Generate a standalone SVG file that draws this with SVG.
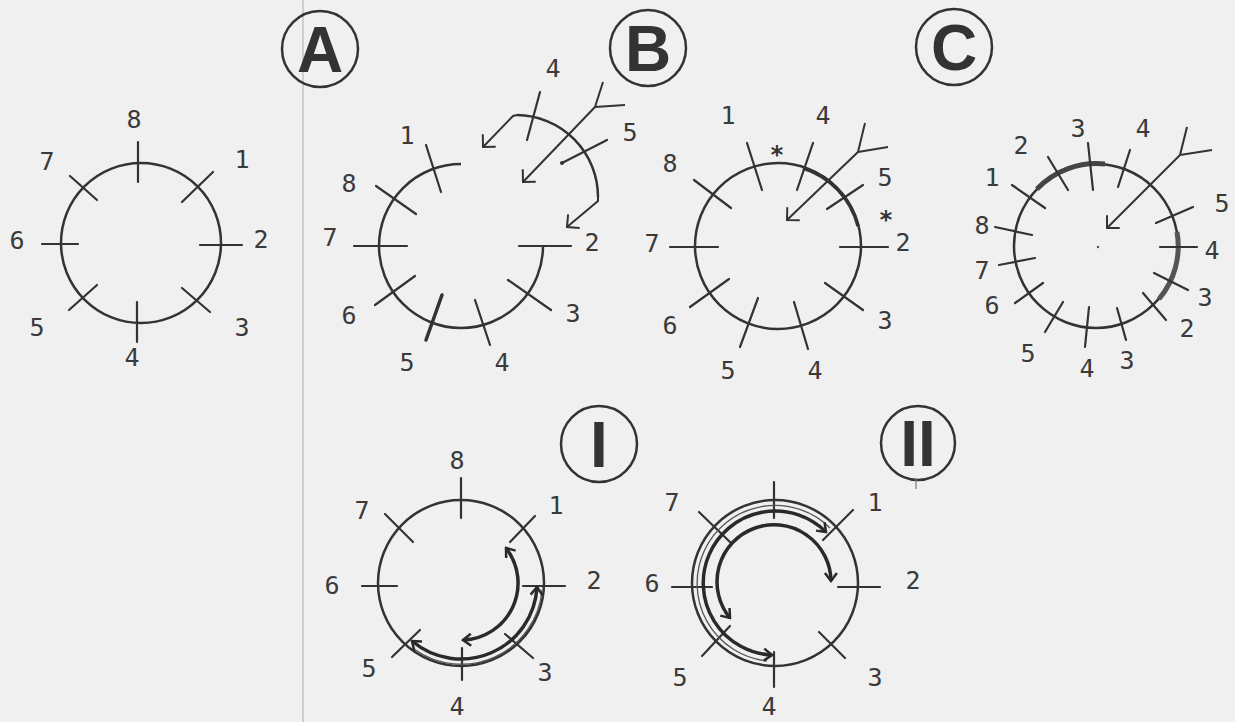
<svg xmlns="http://www.w3.org/2000/svg" width="1235" height="722" viewBox="0 0 1235 722">
<defs>
<style>
.ring{fill:none;stroke:#333;stroke-width:2.5}
.tk{stroke:#333;stroke-width:2.2;stroke-linecap:round}
.ar{fill:none;stroke:#333;stroke-width:2}
.cur{fill:none;stroke:#2a2a2a;stroke-width:3.5}
.thin{fill:none;stroke:#555;stroke-width:1.3}
.thick{fill:none;stroke:#444;stroke-width:5}
.n{font-family:"DejaVu Sans Mono","Liberation Mono",monospace;font-size:25px;fill:#3a3a3a;text-anchor:middle}
.st{font-family:"DejaVu Sans Mono","Liberation Mono",monospace;font-size:24px;font-weight:bold;fill:#333;text-anchor:middle}
.bc{fill:none;stroke:#333;stroke-width:2.5}
.bl{font-family:"Liberation Sans",Arial,sans-serif;font-size:64px;font-weight:bold;fill:#333;text-anchor:middle}
</style>
<marker id="ah" viewBox="-12 -10 14 20" refX="0" refY="0" markerWidth="14" markerHeight="20" orient="auto-start-reverse" markerUnits="userSpaceOnUse">
<path d="M -9 -9 L 0 0 L -9 9" fill="none" stroke="#333" stroke-width="2"/>
</marker>
<marker id="ch" viewBox="-12 -10 14 20" refX="0" refY="0" markerWidth="14" markerHeight="20" orient="auto-start-reverse" markerUnits="userSpaceOnUse">
<path d="M -8 -6 L 0 0 L -8 6" fill="none" stroke="#2a2a2a" stroke-width="2.5"/>
</marker>
</defs>
<rect x="0" y="0" width="1235" height="722" fill="#f0f0f0"/>
<line x1="303" y1="0" x2="303" y2="722" stroke="#c4c4c4" stroke-width="1.5"/>

<g id="label-A"><circle class="bc" cx="320" cy="49" r="38"/><text class="bl" x="320" y="72">A</text></g>
<g id="label-B"><circle class="bc" cx="648" cy="48" r="38"/><text class="bl" x="648" y="71">B</text></g>
<g id="label-C"><circle class="bc" cx="954" cy="47" r="38"/><text class="bl" x="954" y="70">C</text></g>
<g id="label-I"><circle class="bc" cx="599" cy="444" r="38"/><text class="bl" x="599" y="467">I</text></g>
<g id="label-II"><circle class="bc" cx="918" cy="443" r="37"/><text class="bl" x="918" y="466">II</text><line x1="916" y1="479" x2="916" y2="489" stroke="#777" stroke-width="1.2"/></g>

<g id="diagram-A">
<circle class="ring" cx="141" cy="243" r="80"/>
<line class="tk" x1="138" y1="142" x2="138" y2="182"/>
<line class="tk" x1="182" y1="202" x2="213" y2="172"/>
<line class="tk" x1="200" y1="245" x2="242" y2="245"/>
<line class="tk" x1="182" y1="288" x2="210" y2="312"/>
<line class="tk" x1="137" y1="302" x2="137" y2="342"/>
<line class="tk" x1="97" y1="285" x2="69" y2="310"/>
<line class="tk" x1="42" y1="244" x2="78" y2="244"/>
<line class="tk" x1="70" y1="176" x2="97" y2="200"/>
<text class="n" x="134" y="128">8</text>
<text class="n" x="242" y="168">1</text>
<text class="n" x="261" y="248">2</text>
<text class="n" x="242" y="336">3</text>
<text class="n" x="132" y="366">4</text>
<text class="n" x="37" y="336">5</text>
<text class="n" x="17" y="249">6</text>
<text class="n" x="47" y="170">7</text>
</g>

<g id="diagram-B">
<path class="ring" d="M 461 164 A 82 82 0 1 0 543 246"/>
<path class="ring" d="M 517 115 A 82 82 0 0 1 598 197"/>
<line class="tk" x1="426" y1="145" x2="441" y2="192"/>
<line class="tk" x1="376" y1="186" x2="416" y2="214"/>
<line class="tk" x1="354" y1="246" x2="407" y2="246"/>
<line class="tk" x1="375" y1="305" x2="415" y2="276"/>
<line class="tk" x1="426" y1="340" x2="442" y2="295" style="stroke-width:3.5"/>
<line class="tk" x1="475" y1="300" x2="490" y2="345"/>
<line class="tk" x1="508" y1="280" x2="551" y2="310"/>
<line class="tk" x1="519" y1="246" x2="571" y2="246"/>
<line class="tk" x1="540" y1="92" x2="527" y2="140"/>
<line class="tk" x1="562" y1="163" x2="607" y2="140"/>
<circle cx="562" cy="163" r="2" fill="#333"/>
<text class="n" x="407" y="144">1</text>
<text class="n" x="349" y="192">8</text>
<text class="n" x="330" y="246">7</text>
<text class="n" x="349" y="324">6</text>
<text class="n" x="407" y="371">5</text>
<text class="n" x="502" y="371">4</text>
<text class="n" x="573" y="322">3</text>
<text class="n" x="592" y="251">2</text>
<text class="n" x="553" y="77">4</text>
<text class="n" x="630" y="141">5</text>
</g>

<g id="diagram-C1">
<circle class="ring" cx="778" cy="246" r="83"/>
<path d="M 803 168 A 82 82 0 0 1 858 226" fill="none" stroke="#333" stroke-width="3.5"/>
<line class="tk" x1="747" y1="143" x2="762" y2="190"/>
<line class="tk" x1="813" y1="143" x2="797" y2="190"/>
<line class="tk" x1="827" y1="209" x2="863" y2="185"/>
<line class="tk" x1="840" y1="247" x2="888" y2="247"/>
<line class="tk" x1="825" y1="283" x2="863" y2="310"/>
<line class="tk" x1="794" y1="302" x2="808" y2="349"/>
<line class="tk" x1="758" y1="298" x2="740" y2="347"/>
<line class="tk" x1="729" y1="279" x2="690" y2="307"/>
<line class="tk" x1="670" y1="247" x2="718" y2="247"/>
<line class="tk" x1="694" y1="180" x2="731" y2="208"/>
<text class="st" x="777" y="163">*</text>
<text class="st" x="886" y="228">*</text>
<text class="n" x="728" y="124">1</text>
<text class="n" x="823" y="124">4</text>
<text class="n" x="670" y="172">8</text>
<text class="n" x="885" y="186">5</text>
<text class="n" x="903" y="251">2</text>
<text class="n" x="652" y="252">7</text>
<text class="n" x="670" y="334">6</text>
<text class="n" x="885" y="329">3</text>
<text class="n" x="728" y="379">5</text>
<text class="n" x="815" y="379">4</text>
</g>

<g id="diagram-C2">
<circle class="ring" cx="1096" cy="246" r="82"/>
<circle cx="1098" cy="247" r="1.2" fill="#555"/>
<path class="thick" d="M 1037 189 A 82 82 0 0 1 1105 164"/>
<path class="thick" d="M 1177 232 A 82 82 0 0 1 1159 299" style="stroke:#555"/>
<line class="tk" x1="1088" y1="143" x2="1093" y2="190"/>
<line class="tk" x1="1130" y1="150" x2="1118" y2="187"/>
<line class="tk" x1="1048" y1="157" x2="1068" y2="190"/>
<line class="tk" x1="1012" y1="185" x2="1045" y2="208"/>
<line class="tk" x1="995" y1="227" x2="1032" y2="235"/>
<line class="tk" x1="999" y1="265" x2="1035" y2="258"/>
<line class="tk" x1="1015" y1="303" x2="1043" y2="283"/>
<line class="tk" x1="1045" y1="332" x2="1063" y2="302"/>
<line class="tk" x1="1085" y1="347" x2="1089" y2="307"/>
<line class="tk" x1="1117" y1="308" x2="1126" y2="340"/>
<line class="tk" x1="1143" y1="293" x2="1166" y2="320"/>
<line class="tk" x1="1154" y1="273" x2="1188" y2="290"/>
<line class="tk" x1="1160" y1="247" x2="1197" y2="247"/>
<line class="tk" x1="1156" y1="223" x2="1193" y2="207"/>
<text class="n" x="1078" y="137">3</text>
<text class="n" x="1143" y="137">4</text>
<text class="n" x="1021" y="154">2</text>
<text class="n" x="992" y="186">1</text>
<text class="n" x="982" y="234">8</text>
<text class="n" x="982" y="279">7</text>
<text class="n" x="992" y="314">6</text>
<text class="n" x="1028" y="362">5</text>
<text class="n" x="1087" y="377">4</text>
<text class="n" x="1127" y="369">3</text>
<text class="n" x="1187" y="337">2</text>
<text class="n" x="1205" y="306">3</text>
<text class="n" x="1212" y="259">4</text>
<text class="n" x="1222" y="212">5</text>
</g>

<g id="diagram-I">
<circle class="ring" cx="461" cy="583" r="83"/>
<line class="tk" x1="461" y1="478" x2="461" y2="518"/>
<line class="tk" x1="510" y1="542" x2="535" y2="516"/>
<line class="tk" x1="523" y1="586" x2="565" y2="586"/>
<line class="tk" x1="505" y1="634" x2="533" y2="658"/>
<line class="tk" x1="462" y1="648" x2="462" y2="680"/>
<line class="tk" x1="392" y1="657" x2="420" y2="630"/>
<line class="tk" x1="362" y1="586" x2="397" y2="586"/>
<line class="tk" x1="385" y1="514" x2="413" y2="542"/>
<text class="n" x="457" y="469">8</text>
<text class="n" x="556" y="514">1</text>
<text class="n" x="594" y="589">2</text>
<text class="n" x="545" y="681">3</text>
<text class="n" x="457" y="715">4</text>
<text class="n" x="369" y="677">5</text>
<text class="n" x="332" y="594">6</text>
<text class="n" x="362" y="519">7</text>
</g>

<g id="diagram-II">
<circle class="ring" cx="775" cy="583" r="83"/>
<line class="tk" x1="774" y1="482" x2="774" y2="518"/>
<line class="tk" x1="823" y1="540" x2="853" y2="510"/>
<line class="tk" x1="838" y1="587" x2="880" y2="587"/>
<line class="tk" x1="819" y1="632" x2="845" y2="658"/>
<line class="tk" x1="774" y1="652" x2="774" y2="687"/>
<line class="tk" x1="702" y1="656" x2="730" y2="626"/>
<line class="tk" x1="672" y1="587" x2="712" y2="587"/>
<line class="tk" x1="699" y1="512" x2="730" y2="542"/>
<text class="n" x="672" y="511">7</text>
<text class="n" x="875" y="511">1</text>
<text class="n" x="652" y="592">6</text>
<text class="n" x="913" y="589">2</text>
<text class="n" x="680" y="686">5</text>
<text class="n" x="875" y="686">3</text>
<text class="n" x="769" y="715">4</text>
</g>

<g id="connectors">
<path class="ar" d="M 483 147 L 513 116 L 517 115" marker-start="url(#ah)"/>
<path class="ar" d="M 598 197 L 598 201 L 567 227" marker-end="url(#ah)"/>
<line class="ar" x1="595" y1="107" x2="523" y2="182" marker-end="url(#ah)"/>
<line class="ar" x1="595" y1="107" x2="603" y2="82"/>
<line class="ar" x1="595" y1="107" x2="625" y2="105"/>
<line class="ar" x1="858" y1="152" x2="787" y2="220" marker-end="url(#ah)"/>
<line class="ar" x1="858" y1="152" x2="865" y2="123"/>
<line class="ar" x1="858" y1="152" x2="888" y2="147"/>
<line class="ar" x1="1180" y1="155" x2="1107" y2="228" marker-end="url(#ah)"/>
<line class="ar" x1="1180" y1="155" x2="1187" y2="127"/>
<line class="ar" x1="1180" y1="155" x2="1212" y2="150"/>
<path class="cur" d="M 506 548 A 57 57 0 0 1 463 640" marker-start="url(#ch)" marker-end="url(#ch)"/>
<path class="thin" d="M 542 590 A 81 81 0 0 1 414 649"/>
<path class="cur" d="M 537 587 A 76 76 0 0 1 412 641" marker-start="url(#ch)" marker-end="url(#ch)"/>
<path class="thin" d="M 767 661 A 78 78 0 1 1 830 528"/>
<path class="cur" d="M 772 655 A 72 72 0 1 1 826 532" marker-start="url(#ch)" marker-end="url(#ch)"/>
<path class="cur" d="M 730 618 A 57 57 0 1 1 831 581" marker-start="url(#ch)" marker-end="url(#ch)"/>
</g>
</svg>
